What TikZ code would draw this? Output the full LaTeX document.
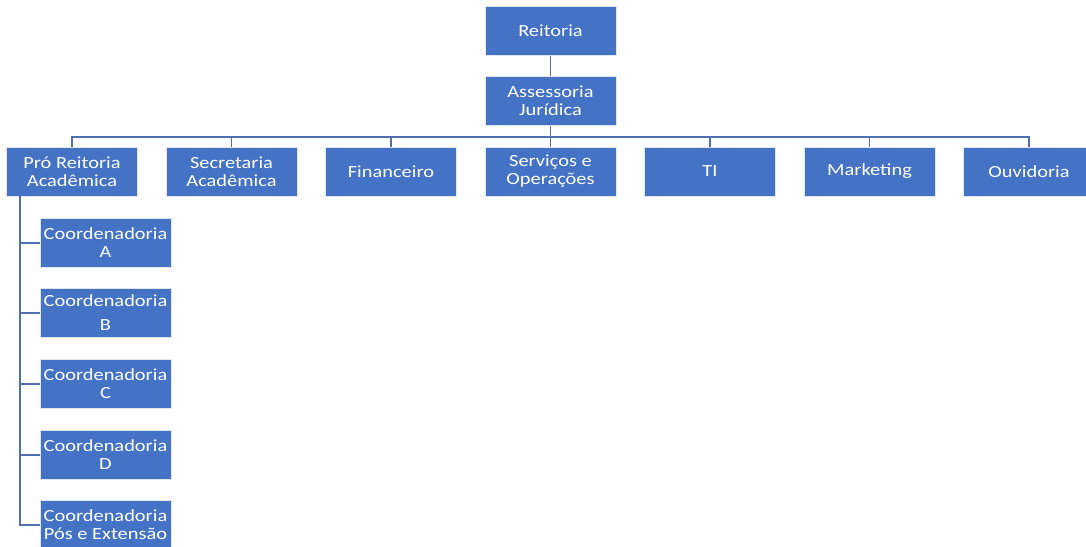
\documentclass[tikz,border=0pt]{standalone}
\usepackage{fontspec}
\setmainfont{Carlito}[FakeStretch=1.2]
\definecolor{boxblue}{RGB}{68,114,196}
\definecolor{lineblue}{RGB}{79,113,175}
\definecolor{edge}{RGB}{225,230,238}
\begin{document}
\begin{tikzpicture}[x=1pt,y=-1pt,
  orgbox/.style={draw=edge,line width=1pt,fill=boxblue,text=white,
    minimum width=131pt,minimum height=49pt,inner sep=0pt,align=center,
    font=\fontsize{17}{18}\selectfont},
  conn/.style={draw=lineblue,line width=1.4pt}]
\useasboundingbox (0,0) rectangle (1086,546);
\clip (0,0) rectangle (1086,546);
\node[orgbox] (reit) at (550.5,30.5) {Reitoria};
\node[orgbox] (ass) at (550.5,101) {Assessoria\\Jurídica};
\node[orgbox] (pro) at (72,171.5) {Pró Reitoria\\Acadêmica};
\node[orgbox] (sec) at (231.5,171.5) {Secretaria\\Acadêmica};
\node[orgbox] (fin) at (391,171.5) {Financeiro};
\node[orgbox] (serv) at (550.5,171.5) {Serviços e\\Operações};
\node[orgbox] (ti) at (710,171.5) {TI};
\node[orgbox] (mkt) at (869.5,171.5) {\raisebox{-2pt}{Marketing}};
\node[orgbox] (ouv) at (1029,171.5) {Ouvidoria};
\node[orgbox] (ca) at (105.5,243) {Coordenadoria\\A};
\node[orgbox] (cb) at (105.5,313) {Coordenadoria\\[6pt]B};
\node[orgbox] (cc) at (105.5,384) {Coordenadoria\\C};
\node[orgbox] (cd) at (105.5,455) {Coordenadoria\\D};
\node[orgbox] (cp) at (105.5,525) {Coordenadoria\\Pós e Extensão};
\draw[conn] (reit.south) -- (ass.north);
\foreach \c in {pro,sec,fin,serv,ti,mkt,ouv}
  \draw[conn] (ass.south) -- ++(0,11) -| (\c.north);
\coordinate (ps) at (20,196);
\foreach \c in {ca,cb,cc,cd,cp}
  \draw[conn] (ps) |- (\c.west);
\end{tikzpicture}
\end{document}
